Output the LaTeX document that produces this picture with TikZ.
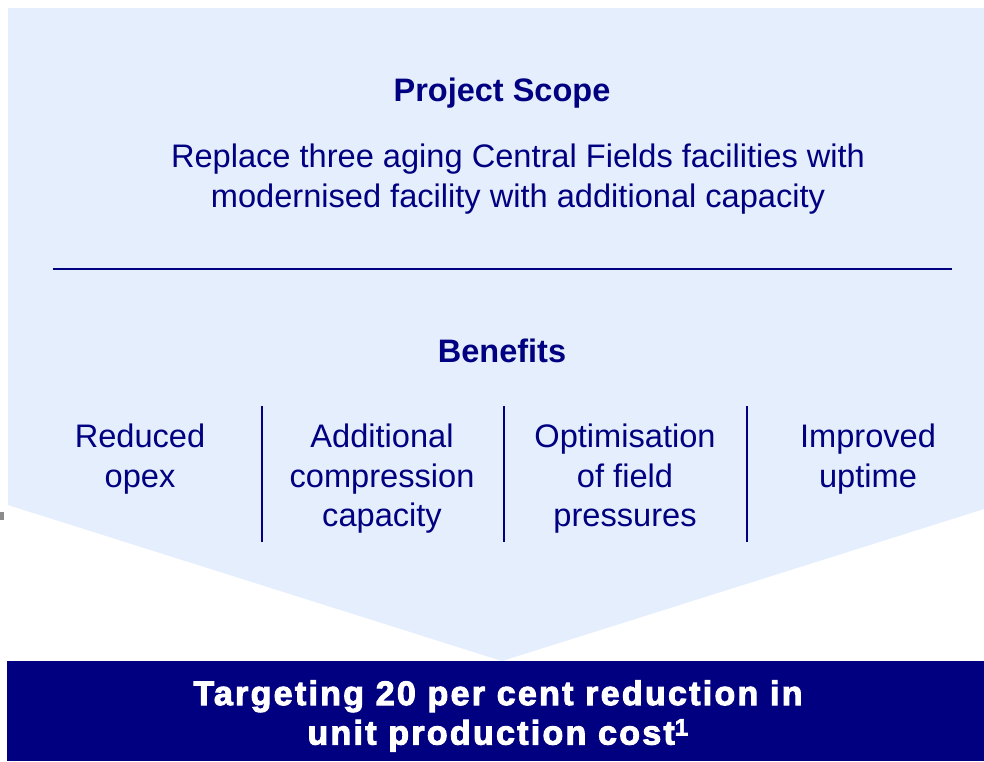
\documentclass[tikz,border=0pt]{standalone}
\usepackage{fontspec}
\setmainfont{Liberation Sans}
\newfontfamily\heavyfont[FakeBold=3,LetterSpace=6.7]{Liberation Sans Bold}
\definecolor{lightbg}{RGB}{228,238,253}
\definecolor{navy}{RGB}{0,0,128}
\definecolor{markgrey}{RGB}{140,140,140}
\tikzset{
  txt/.style={text=navy,align=center,inner sep=0pt,font=\fontsize{32.6}{39.5}\selectfont},
  hdr/.style={text=navy,align=center,inner sep=0pt,font=\fontsize{32.5}{38}\selectfont\bfseries},
  sep/.style={draw=navy,line width=1.4pt},
}
\begin{document}
\begin{tikzpicture}[x=1pt,y=-1pt]
\useasboundingbox (0,0) rectangle (984,761);
\fill[white] (0,0) rectangle (984,761);
% chevron background
\fill[lightbg] (8,8) -- (984,8) -- (984,509) -- (502,661) -- (8,505) -- cycle;
% small grey mark
\fill[markgrey] (0,512) rectangle (4,520);
% bottom bar
\fill[navy] (7,661) rectangle (984,761);
% texts
\node[hdr] (scope) at (502,93) {Project Scope};
\node[txt] (desc) at (518,179) {Replace three aging Central Fields facilities with\\modernised facility with additional capacity};
\coordinate (hl) at (53,269);
\coordinate (hr) at (952,269);
\draw[sep] (hl) -- (hr);
\node[hdr] (ben) at (502,351) {Benefits};
\node[txt,anchor=north] (b1) at (140,424) {Reduced\\opex};
\node[txt,anchor=north] (b2) at (382,424) {Additional\\compression\\capacity};
\node[txt,anchor=north] (b3) at (625,424) {Optimisation\\of field\\pressures};
\node[txt,anchor=north] (b4) at (868,424) {Improved\\uptime};
\coordinate (s1t) at (262,406); \coordinate (s1b) at (262,542);
\coordinate (s2t) at (504,406); \coordinate (s2b) at (504,542);
\coordinate (s3t) at (747,406); \coordinate (s3b) at (747,542);
\draw[sep] (s1t) -- (s1b);
\draw[sep] (s2t) -- (s2b);
\draw[sep] (s3t) -- (s3b);
\node[text=white,align=center,inner sep=0pt,font=\fontsize{34}{39.5}\heavyfont] (target) at (498,716) {Targeting 20 per cent reduction in\\unit production cost\textsuperscript{1}};
\end{tikzpicture}
\end{document}
